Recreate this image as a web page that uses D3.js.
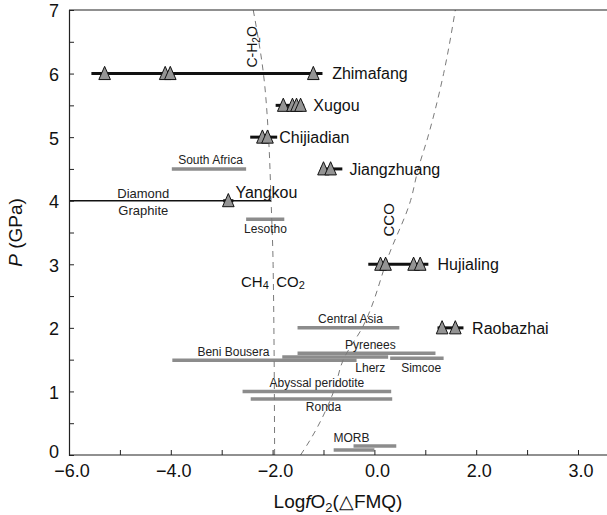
<!DOCTYPE html>
<html>
<head>
<meta charset="utf-8">
<script src="https://cdn.jsdelivr.net/npm/d3@7"></script>
<style>
  body { margin: 0; background: #fff; }
  svg { font-family: "Liberation Sans", Arial, sans-serif; }
</style>
</head>
<body>
<div id="chart"></div>
<script>
// eclogite / peridotite sites: black bar with triangle samples
var siteNames  = ["Zhimafang", "Xugou", "Chijiadian", "Jiangzhuang", "Yangkou", "Hujialing", "Raobazhai"];
var sitePressure = [6, 5.5, 5, 4.5, 4, 3, 2];
var siteMin    = [-5.56, -1.94, -2.44, -1.06, -2.97, -0.12, 1.24];
var siteMax    = [-1.02, -1.38, -1.91, -0.63, -2.77, 1.06, 1.75];
var sitePoints = [
  [-5.30, -4.11, -4.01, -1.20],
  [-1.79, -1.61, -1.53, -1.45],
  [-2.20, -2.10],
  [-1.00, -0.86],
  [-2.87],
  [0.12, 0.22, 0.77, 0.90],
  [1.33, 1.59]
];
// label anchor (start) in data units
var siteLabelX = [-0.83, -1.20, -1.87, -0.49, -2.73, 1.24, 1.92];
var siteLabelP = [6, 5.5, 5, 4.5, 4.14, 3, 2];

// literature ranges (grey bars)
var rangeNames = ["South Africa", "Lesotho", "Central Asia", "Pyrenees", "Beni Bousera", "Lherz",
                  "Simcoe", "Abyssal peridotite", "Ronda", "MORB", "MORB2"];
var rangeP   = [4.5, 3.71, 2.0, 1.6, 1.49, 1.54, 1.52, 1.0, 0.88, 0.14, 0.08];
var rangeMin = [-3.98, -2.52, -1.51, -1.51, -3.97, -1.81, 0.31, -2.59, -2.43, -0.41, -0.80];
var rangeMax = [-2.52, -1.77, 0.49, 1.20, -0.35, 0.27, 1.36, 0.33, 0.35, 0.43, 0.00];

var labelTexts = ["South Africa", "Lesotho", "Diamond", "Graphite", "Central Asia", "Pyrenees", "Beni Bousera",
                  "Lherz", "Simcoe", "Abyssal peridotite", "Ronda", "MORB"];
var labelX = [-3.22, -2.14, -4.54, -4.54, -0.47, -0.08, -2.77, -0.08, 0.92, -1.13, -1.00, -0.45];
var labelP = [4.64, 3.56, 4.12, 3.85, 2.14, 1.73, 1.62, 1.37, 1.38, 1.13, 0.76, 0.28];

// diamond-graphite transition
var dgP = 4, dgMin = -6, dgMax = -2.03;

// buffer curves
var chX = [-1.96, -1.99, -2.03, -2.08, -2.18, -2.38];
var chP = [0, 3, 4, 5, 6, 7];
var ccoX = [-1.45, -1.26, -0.80, -0.61, -0.24, 0.30, 0.71, 0.86, 1.05, 1.36, 1.59];
var ccoP = [0, 0.24, 1, 1.5, 2, 3.18, 4, 4.5, 5, 6, 7];

// axes
var xTickValues = [-6, -4, -2, 0, 2, 4];
var xTickLabels = ["\u22126.0", "\u22124.0", "\u22122.0", "0.0", "2.0", "3.0"];
var yTickValues = [0, 1, 2, 3, 4, 5, 6, 7];

var width = 607, height = 515;
var margin = {top: 10, right: 0, bottom: 60, left: 69};

var svg = d3.select("#chart").append("svg")
    .attr("width", width)
    .attr("height", height);

var x = d3.scaleLinear().domain([-6, 4.57]).range([margin.left, width - margin.right]);
var y = d3.scaleLinear().domain([0, 7]).range([height - margin.bottom, margin.top]);

var grey = "#8c8c8c";

// grey ranges
svg.selectAll(".range")
    .data(rangeNames.map(function(n, i){ return {name: n, p: rangeP[i], lo: rangeMin[i], hi: rangeMax[i]}; }))
    .enter().append("line")
    .attr("class", "range")
    .attr("x1", function(d){ return x(d.lo); })
    .attr("x2", function(d){ return x(d.hi); })
    .attr("y1", function(d){ return y(d.p); })
    .attr("y2", function(d){ return y(d.p); })
    .attr("stroke", grey)
    .attr("stroke-width", 3.5);

// dashed buffer curves
var line = d3.line()
    .x(function(d){ return x(d[0]); })
    .y(function(d){ return y(d[1]); })
    .curve(d3.curveMonotoneY);

[[chX, chP], [ccoX, ccoP]].forEach(function(c){
    svg.append("path")
        .datum(c[0].map(function(v, i){ return [v, c[1][i]]; }))
        .attr("d", line)
        .attr("fill", "none")
        .attr("stroke", "#7a7a7a")
        .attr("stroke-width", 1)
        .attr("stroke-dasharray", "6,5");
});

// diamond-graphite line
svg.append("line")
    .attr("x1", x(dgMin)).attr("x2", x(dgMax))
    .attr("y1", y(dgP)).attr("y2", y(dgP))
    .attr("stroke", "#111").attr("stroke-width", 1.5);

// annotation labels for grey ranges
svg.selectAll(".rlabel")
    .data(labelTexts.map(function(t, i){ return {t: t, x: labelX[i], p: labelP[i]}; }))
    .enter().append("text")
    .attr("class", "rlabel")
    .attr("x", function(d){ return x(d.x); })
    .attr("y", function(d){ return y(d.p); })
    .attr("dy", "0.36em")
    .attr("text-anchor", "middle")
    .attr("font-size", function(d){ return (d.t === "Diamond" || d.t === "Graphite") ? 13 : 12; })
    .attr("fill", "#222")
    .text(function(d){ return d.t; });

// sites
var sites = siteNames.map(function(n, i){
    return {name: n, p: sitePressure[i], lo: siteMin[i], hi: siteMax[i], pts: sitePoints[i],
            lx: siteLabelX[i], lp: siteLabelP[i]};
});

svg.selectAll(".siteLine")
    .data(sites)
    .enter().append("line")
    .attr("class", "siteLine")
    .attr("x1", function(d){ return x(d.lo); })
    .attr("x2", function(d){ return x(d.hi); })
    .attr("y1", function(d){ return y(d.p); })
    .attr("y2", function(d){ return y(d.p); })
    .attr("stroke", "#111")
    .attr("stroke-width", 3);

var tri = "M0,-7.2L5.8,6L-5.8,6Z";
sites.forEach(function(s){
    svg.selectAll(null)
        .data(s.pts)
        .enter().append("path")
        .attr("d", tri)
        .attr("transform", function(v){ return "translate(" + x(v) + "," + y(s.p) + ")"; })
        .attr("fill", "#949494")
        .attr("stroke", "#111")
        .attr("stroke-width", 1);
});

svg.selectAll(".siteLabel")
    .data(sites)
    .enter().append("text")
    .attr("class", "siteLabel")
    .attr("x", function(d){ return x(d.lx); })
    .attr("y", function(d){ return y(d.lp); })
    .attr("dy", "0.36em")
    .attr("font-size", 16)
    .attr("fill", "#111")
    .text(function(d){ return d.name; });

// curve labels
var ch = svg.append("text")
    .attr("transform", "translate(" + (x(-2.40) + 5) + "," + y(6.42) + ") rotate(-90)")
    .attr("text-anchor", "middle")
    .attr("font-size", 14)
    .attr("fill", "#111");
ch.append("tspan").text("C-H");
ch.append("tspan").attr("font-size", 10).attr("dy", 3).text("2");
ch.append("tspan").attr("dy", -3).text("O");

svg.append("text")
    .attr("transform", "translate(" + (x(0.28) + 5) + "," + y(3.70) + ") rotate(-90)")
    .attr("text-anchor", "middle")
    .attr("font-size", 15)
    .attr("fill", "#111")
    .text("CCO");

var ch4 = svg.append("text")
    .attr("x", x(-2.62)).attr("y", y(2.72))
    .attr("dy", "0.36em")
    .attr("font-size", 15)
    .attr("fill", "#111");
ch4.append("tspan").text("CH");
ch4.append("tspan").attr("font-size", 11).attr("dy", 2).text("4");
var co2 = svg.append("text")
    .attr("x", x(-1.93)).attr("y", y(2.72))
    .attr("dy", "0.36em")
    .attr("font-size", 15)
    .attr("fill", "#111");
co2.append("tspan").text("CO");
co2.append("tspan").attr("font-size", 11).attr("dy", 2).text("2");

// frame: top line, left and bottom axes
svg.append("line")
    .attr("x1", x(-6)).attr("x2", width)
    .attr("y1", y(7)).attr("y2", y(7))
    .attr("stroke", "#222").attr("stroke-width", 1.2);

var xAxis = svg.append("g")
    .attr("transform", "translate(0," + y(0) + ")")
    .call(d3.axisBottom(x).tickValues(d3.range(-6, 5, 1)).tickSize(-5).tickFormat(""));
xAxis.select(".domain").attr("d", "M" + x(-6) + ",0H" + width).attr("stroke", "#222").attr("stroke-width", 1.2);
xAxis.selectAll(".tick line").attr("stroke", "#222");

svg.selectAll(".xlab")
    .data(xTickValues)
    .enter().append("text")
    .attr("class", "xlab")
    .attr("x", function(d){ return x(d) + 3; })
    .attr("y", y(0) + 22)
    .attr("text-anchor", "middle")
    .attr("font-size", 18)
    .attr("fill", "#111")
    .text(function(d, i){ return xTickLabels[i]; });

var yAxis = svg.append("g")
    .attr("transform", "translate(" + x(-6) + ",0)")
    .call(d3.axisLeft(y).tickValues(d3.range(0, 7.01, 0.5)).tickSize(-5).tickFormat(""));
yAxis.select(".domain").attr("stroke", "#222").attr("stroke-width", 1.2);
yAxis.selectAll(".tick line").attr("stroke", "#222");

svg.selectAll(".ylab")
    .data(yTickValues)
    .enter().append("text")
    .attr("class", "ylab")
    .attr("x", x(-6) - 10)
    .attr("y", function(d){ return y(d) + (d === 0 ? -3 : 1); })
    .attr("dy", "0.36em")
    .attr("text-anchor", "end")
    .attr("font-size", 18)
    .attr("fill", "#111")
    .text(function(d){ return d; });

// axis titles
var xt = svg.append("text")
    .attr("x", 338).attr("y", 508)
    .attr("text-anchor", "middle")
    .attr("font-size", 19)
    .attr("fill", "#111");
xt.append("tspan").text("Log");
xt.append("tspan").attr("font-style", "italic").text("f");
xt.append("tspan").text("O");
xt.append("tspan").attr("font-size", 13).attr("dy", 4).text("2");
xt.append("tspan").attr("dy", -4).text("(\u25B3FMQ)");

var yt = svg.append("text")
    .attr("transform", "translate(22," + y(3.5) + ") rotate(-90)")
    .attr("text-anchor", "middle")
    .attr("font-size", 19)
    .attr("fill", "#111");
yt.append("tspan").attr("font-style", "italic").text("P");
yt.append("tspan").text(" (GPa)");
</script>
</body>
</html>
